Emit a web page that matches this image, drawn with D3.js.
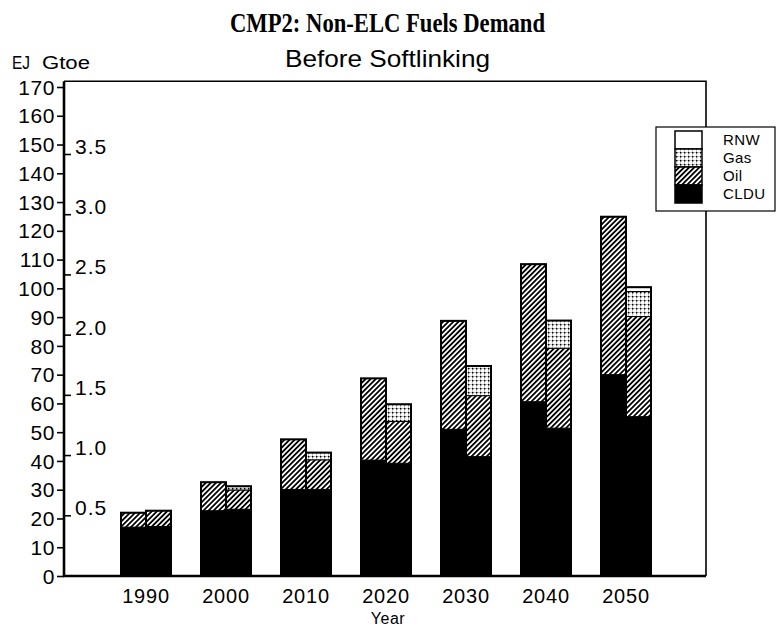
<!DOCTYPE html>
<html>
<head>
<meta charset="utf-8">
<script src="https://cdn.jsdelivr.net/npm/d3@7/dist/d3.min.js"></script>
<style>
  body { margin: 0; background: #fff; }
  svg { display: block; }
  text { fill: #000; }
</style>
</head>
<body>
<script>
// Non-electric fuel demand (EJ) by decade, two cases per decade
const years = ['1990', '2000', '2010', '2020', '2030', '2040', '2050'];
const cases = ['a', 'b'];
const fuels = ['CLDU', 'Oil', 'Gas', 'RNW'];

// left bar of each pair
const clduA = [17.0, 22.7, 30.1, 40.3, 51.0, 60.6, 70.0];
const oilA  = [5.0, 9.9, 17.4, 28.4, 37.7, 47.8, 54.9];
const gasA  = [0, 0, 0, 0, 0, 0, 0];
const rnwA  = [0, 0, 0, 0, 0, 0, 0];

// right bar of each pair
const clduB = [17.2, 23.2, 30.1, 39.2, 41.5, 51.4, 55.4];
const oilB  = [5.5, 6.7, 10.3, 14.5, 21.2, 27.8, 34.8];
const gasB  = [0, 1.3, 2.5, 6.0, 10.3, 9.6, 8.7];
const rnwB  = [0, 0, 0, 0, 0, 0, 1.5];

const ejTicks = d3.range(0, 171, 10);
const gtoeTicks = [0.5, 1.0, 1.5, 2.0, 2.5, 3.0, 3.5];
const EJ_PER_GTOE = 41.868;

const W = 776, H = 626;
const SANS = 'Liberation Sans, Arial, sans-serif';
const svg = d3.select('body').append('svg').attr('width', W).attr('height', H);

// fill patterns
const defs = svg.append('defs');
const hatch = defs.append('pattern').attr('id', 'hatch')
  .attr('patternUnits', 'userSpaceOnUse').attr('width', 3.6).attr('height', 3.6)
  .attr('patternTransform', 'rotate(45)');
hatch.append('rect').attr('width', 3.6).attr('height', 3.6).attr('fill', '#fff');
hatch.append('line').attr('x1', 0.9).attr('y1', 0).attr('x2', 0.9).attr('y2', 3.6)
  .attr('stroke', '#000').attr('stroke-width', 1.8);

const dots = defs.append('pattern').attr('id', 'dots')
  .attr('patternUnits', 'userSpaceOnUse').attr('width', 4).attr('height', 4);
dots.append('rect').attr('width', 4).attr('height', 4).attr('fill', '#fff');
dots.append('rect').attr('x', 0).attr('y', 0).attr('width', 4).attr('height', 0.6).attr('fill', '#999');
dots.append('rect').attr('x', 0).attr('y', 0).attr('width', 0.6).attr('height', 4).attr('fill', '#999');
dots.append('rect').attr('x', 0).attr('y', 0).attr('width', 1.4).attr('height', 1.4).attr('fill', '#000');

const fillOf = { CLDU: '#000', Oil: 'url(#hatch)', Gas: 'url(#dots)', RNW: '#fff' };

// scales
const x = d3.scaleBand().domain(years).range([106, 666]).paddingInner(0.375).paddingOuter(0.1875);
const xc = d3.scaleBand().domain(cases).range([0, x.bandwidth()]);
const y = d3.scaleLinear().domain([0, 170]).range([576, 87]);
const yG = d3.scaleLinear().domain([0, 170 / EJ_PER_GTOE]).range([576, 87]);

const x0 = 64, x1 = 706, yTop = y(172), yBot = y(0);

// stacked data
function rows(cldu, oil, gas, rnw) {
  return years.map((yr, i) => ({ year: yr, CLDU: cldu[i], Oil: oil[i], Gas: gas[i], RNW: rnw[i] }));
}
const stack = d3.stack().keys(fuels);
const seriesA = stack(rows(clduA, oilA, gasA, rnwA));
const seriesB = stack(rows(clduB, oilB, gasB, rnwB));

function drawBars(series, cs) {
  const g = svg.append('g');
  series.forEach(s => {
    g.selectAll(null).data(s.filter(d => d[1] - d[0] > 0)).join('rect')
      .attr('x', d => x(d.data.year) + xc(cs))
      .attr('width', xc.bandwidth())
      .attr('y', d => y(d[1]))
      .attr('height', d => y(d[0]) - y(d[1]))
      .attr('fill', fillOf[s.key])
      .attr('stroke', '#000').attr('stroke-width', 1);
  });
  // bar outline
  const tot = series[series.length - 1];
  g.selectAll(null).data(tot).join('rect')
    .attr('x', d => x(d.data.year) + xc(cs))
    .attr('width', xc.bandwidth())
    .attr('y', d => y(d[1]))
    .attr('height', d => y(0) - y(d[1]))
    .attr('fill', 'none').attr('stroke', '#000').attr('stroke-width', 2);
}
drawBars(seriesA, 'a');
drawBars(seriesB, 'b');

// frame
svg.append('path')
  .attr('d', `M${x0},${yTop}H${x1}V${yBot}`)
  .attr('fill', 'none').attr('stroke', '#000').attr('stroke-width', 1.6);
svg.append('path')
  .attr('d', `M${x0},${yTop}V${yBot}H${x1}`)
  .attr('fill', 'none').attr('stroke', '#000').attr('stroke-width', 2.6);

// EJ axis
const ejAxis = d3.axisLeft(y).tickValues(ejTicks).tickSize(7).tickPadding(2);
const gEJ = svg.append('g').attr('transform', `translate(${x0},0)`).call(ejAxis);
gEJ.select('.domain').remove();
gEJ.selectAll('line').attr('stroke', '#000').attr('stroke-width', 1.6);
gEJ.selectAll('text').attr('font-family', SANS)
  .attr('font-size', 21).attr('letter-spacing', 0.6).attr('dy', '0.34em');

// Gtoe axis (inside, to the right of the EJ axis)
const gG = svg.append('g').attr('transform', `translate(${x0},0)`);
gG.selectAll('line').data(gtoeTicks).join('line')
  .attr('x1', 0).attr('x2', 7)
  .attr('y1', d => yG(d)).attr('y2', d => yG(d))
  .attr('stroke', '#000').attr('stroke-width', 1.6);
gG.selectAll('text').data(gtoeTicks).join('text')
  .attr('x', 11).attr('y', d => yG(d) - 0.5)
  .attr('font-family', SANS).attr('font-size', 21).attr('letter-spacing', 1)
  .text(d => d.toFixed(1));

// x labels
svg.append('g').selectAll('text').data(years).join('text')
  .attr('x', d => x(d) + x.bandwidth() / 2).attr('y', 603)
  .attr('text-anchor', 'middle')
  .attr('font-family', SANS).attr('font-size', 20).attr('letter-spacing', 0.8)
  .text(d => d);
svg.append('text').attr('x', 388).attr('y', 624).attr('text-anchor', 'middle')
  .attr('font-family', SANS).attr('font-size', 16).attr('letter-spacing', 0.5)
  .text('Year');

// titles
svg.append('text').attr('x', 230).attr('y', 32)
  .attr('textLength', 315).attr('lengthAdjust', 'spacingAndGlyphs')
  .attr('font-family', 'Liberation Serif, Times New Roman, serif').attr('font-weight', 'bold')
  .attr('font-size', 28).text('CMP2: Non-ELC Fuels Demand');
svg.append('text').attr('x', 285).attr('y', 67)
  .attr('textLength', 205).attr('lengthAdjust', 'spacingAndGlyphs')
  .attr('font-family', SANS).attr('font-size', 24)
  .text('Before Softlinking');
svg.append('text').attr('x', 12).attr('y', 69)
  .attr('textLength', 18).attr('lengthAdjust', 'spacingAndGlyphs')
  .attr('font-family', SANS).attr('font-size', 18).text('EJ');
svg.append('text').attr('x', 42).attr('y', 69)
  .attr('textLength', 48).attr('lengthAdjust', 'spacingAndGlyphs')
  .attr('font-family', SANS).attr('font-size', 18).text('Gtoe');

// legend
const legItems = ['RNW', 'Gas', 'Oil', 'CLDU'];
const lg = svg.append('g');
lg.append('rect').attr('x', 656).attr('y', 127).attr('width', 119).attr('height', 84)
  .attr('fill', '#fff').attr('stroke', '#000').attr('stroke-width', 1.2);
const legY = d3.scaleBand().domain(legItems).range([131, 203]);
lg.selectAll('rect.sw').data(legItems).join('rect').attr('class', 'sw')
  .attr('x', 675).attr('width', 27)
  .attr('y', d => legY(d)).attr('height', legY.bandwidth())
  .attr('fill', d => fillOf[d]).attr('stroke', '#000').attr('stroke-width', 1.5);
lg.selectAll('text').data(legItems).join('text')
  .attr('x', 723).attr('y', d => legY(d) + legY.bandwidth() / 2)
  .attr('dy', '0.36em')
  .attr('font-family', SANS).attr('font-size', 15).attr('letter-spacing', 0.4)
  .text(d => d);
</script>
</body>
</html>
